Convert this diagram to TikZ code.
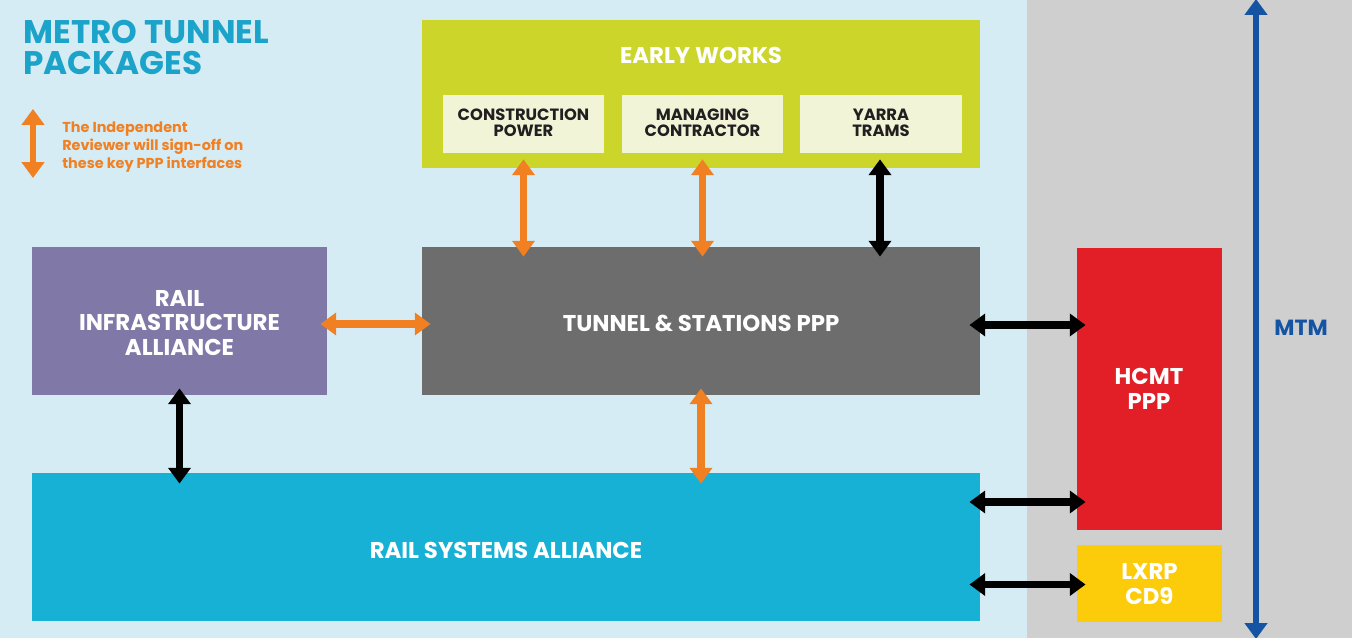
\documentclass[tikz,border=0pt]{standalone}
\usepackage{fontspec}
\setmainfont{Poppins}
\usetikzlibrary{arrows.meta,fit,calc}

\definecolor{bglight}{HTML}{D5ECF4}
\definecolor{bggray}{HTML}{CFCFCF}
\definecolor{ewgreen}{HTML}{CBD52A}
\definecolor{ewsub}{HTML}{F2F4D8}
\definecolor{tsgray}{HTML}{6E6D6D}
\definecolor{riapurple}{HTML}{8079A8}
\definecolor{rsacyan}{HTML}{17B1D6}
\definecolor{hcmtred}{HTML}{E21E26}
\definecolor{lxrpyellow}{HTML}{FCCB0A}
\definecolor{ifaceorange}{HTML}{F08022}
\definecolor{mtmblue}{HTML}{1554A3}
\definecolor{titleblue}{HTML}{1BA3C9}
\definecolor{subtext}{HTML}{231F20}

% one picture unit is 0.02cm, i.e. 0.567pt
\newcommand{\pu}{0.567pt}

\tikzset{
  block/.style={inner sep=0pt, draw=none},
  whitetext/.style={text=white, font=\bfseries\fontsize{13}{14.2}\selectfont, align=center, inner sep=0pt},
  subtextstyle/.style={text=subtext, font=\bfseries\fontsize{9.3}{9.3}\selectfont, align=center, inner sep=0pt},
  link/.style={line width=4.3pt, {Triangle[width=12.5pt,length=9pt]}-{Triangle[width=12.5pt,length=9pt]}},
  orangelink/.style={link, draw=ifaceorange},
  blacklink/.style={link, draw=black},
}

\begin{document}
\begin{tikzpicture}[x=0.02cm,y=-0.02cm]
  % canvas and the two background zones
  \useasboundingbox (0,0) rectangle (1352,638);
  \fill[bglight] (0,0) rectangle (1027,638);
  \fill[bggray] (1027,0) rectangle (1352,638);

  % title
  \node[anchor=north west, inner sep=0pt, text=titleblue, align=left,
        font=\bfseries\fontsize{18.6}{17.6}\selectfont] (title) at (23,20)
        {METRO TUNNEL\\PACKAGES};

  % legend
  \coordinate (legtop) at (33,109);
  \coordinate (legbot) at (33,178);
  \draw[orangelink, line width=3.8pt] (legtop) -- (legbot);
  \node[anchor=west, inner sep=0pt, text=ifaceorange, align=left,
        font=\bfseries\fontsize{8.2}{10.2}\selectfont] (legend) at (62,147)
        {The Independent\\Reviewer will sign-off on\\these key PPP interfaces};

  % early works group
  \node[block, fill=ewgreen, fit={(422,20)(980,168)}] (ew) {};
  \node[whitetext] (ewlabel) at (701,55) {EARLY WORKS};
  \node[block, fill=ewsub, fit={(443,95)(604,153)}] (cp) {};
  \node[block, fill=ewsub, fit={(622,95)(783,153)}] (mc) {};
  \node[block, fill=ewsub, fit={(800,95)(962,153)}] (yt) {};
  \node[subtextstyle] (cplabel) at ($(cp.center)+(0,-1)$) {CONSTRUCTION\\POWER};
  \node[subtextstyle] (mclabel) at ($(mc.center)+(0,-1)$) {MANAGING\\CONTRACTOR};
  \node[subtextstyle] (ytlabel) at ($(yt.center)+(0,-1)$) {YARRA\\TRAMS};

  % main packages
  \node[block, fill=tsgray, fit={(422,247)(980,395)}] (ts) {};
  \node[block, fill=riapurple, fit={(32,247)(327,395)}] (ria) {};
  \node[block, fill=rsacyan, fit={(32,473)(980,621)}] (rsa) {};
  \node[block, fill=hcmtred, fit={(1077,248)(1222,530)}] (hcmt) {};
  \node[block, fill=lxrpyellow, fit={(1077,545)(1222,622)}] (lxrp) {};
  \node[whitetext] (tslabel) at ($(ts.center)+(0,2)$) {TUNNEL \& STATIONS PPP};
  \node[whitetext] (rialabel) at ($(ria.center)+(0,2)$) {RAIL\\INFRASTRUCTURE\\ALLIANCE};
  \node[whitetext] (rsalabel) at ($(rsa.center)+(0,3)$) {RAIL SYSTEMS ALLIANCE};
  \node[whitetext] (hcmtlabel) at (1149,389) {HCMT\\PPP};
  \node[whitetext] (lxrplabel) at ($(lxrp.center)+(0,1)$) {LXRP\\CD9};

  % MTM span
  \coordinate (mtmtop) at (1256,-1);
  \coordinate (mtmbot) at (1256,639);
  \draw[link, draw=mtmblue, line width=3.6pt] (mtmtop) -- (mtmbot);
  \node[text=mtmblue, font=\bfseries\fontsize{12.5}{14}\selectfont, inner sep=0pt] (mtm) at (1301,328) {MTM};

  % interfaces with early works
  \draw[orangelink, shorten <=6*\pu, shorten >=-10*\pu]
    (cp.south) -- (cp.south |- ts.north);
  \draw[orangelink, shorten <=6*\pu, shorten >=-10*\pu]
    (mc.south) -- (mc.south |- ts.north);
  \draw[blacklink, shorten <=6*\pu, shorten >=-10*\pu]
    ($(yt.south)+(-1,0)$) -- ($(yt.south |- ts.north)+(-1,0)$);

  % interfaces around tunnel & stations
  \draw[orangelink, shorten <=-7*\pu, shorten >=-9*\pu]
    ($(ria.east)+(0,3)$) -- ($(ria.east -| ts.west)+(0,3)$);
  \draw[blacklink, shorten <=-11*\pu, shorten >=-9*\pu]
    ($(ts.east)+(0,4)$) -- ($(ts.east -| hcmt.west)+(0,4)$);
  \draw[orangelink, shorten <=-7*\pu, shorten >=-11*\pu]
    (ts.south) -- (ts.south |- rsa.north);
  \draw[blacklink, shorten <=-7*\pu, shorten >=-11*\pu]
    (ria.south) -- (ria.south |- rsa.north);

  % interfaces of rail systems with the east side
  \draw[blacklink, shorten <=-11*\pu, shorten >=-9*\pu]
    (rsa.east |- 0,502) -- (hcmt.west |- 0,502);
  \draw[blacklink, shorten <=-11*\pu, shorten >=-9*\pu]
    ($(rsa.east |- lxrp.west)+(0,1)$) -- ($(lxrp.west)+(0,1)$);
\end{tikzpicture}
\end{document}
